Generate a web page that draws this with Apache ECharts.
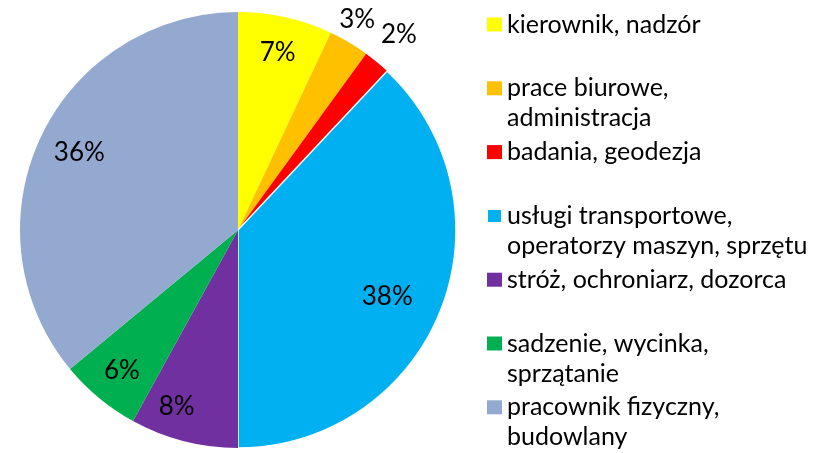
<!DOCTYPE html>
<html>
<head>
<meta charset="utf-8">
<script src="https://cdn.jsdelivr.net/npm/echarts@6/dist/echarts.min.js"></script>
<style>
  html, body { margin: 0; padding: 0; background: #fff; }
  #chart { width: 818px; height: 453px; }
</style>
</head>
<body>
<div id="chart"></div>
<script>
// dane
var categories = [
  'kierownik, nadzór',
  'prace biurowe,\nadministracja',
  'badania, geodezja',
  'usługi transportowe,\noperatorzy maszyn, sprzętu',
  'stróż, ochroniarz, dozorca',
  'sadzenie, wycinka,\nsprzątanie',
  'pracownik fizyczny,\nbudowlany'
];
var shares = [7, 3, 2, 38, 8, 6, 36];
var colors = ['#FFFF00', '#FFC000', '#FF0000', '#00B0F0', '#7030A0', '#00B050', '#94A9D0'];

// etykiety poza kołem (3% i 2%): [length, length2]
var outsideLabels = { 1: [26, -28], 2: [36, -24] };
// drobne przesunięcia etykiet wewnątrz (padding: góra, prawo, dół, lewo)
var labelNudge = { 3: [4, 40, 0, 0], 4: [6, 32, 0, 0], 6: [0, 0, 0, 12] };

var myChart = echarts.init(document.getElementById('chart'));

var pieData = categories.map(function (name, i) {
  var item = { name: name, value: shares[i], itemStyle: { color: colors[i] } };
  if (i === 3) {
    item.itemStyle.borderColor = '#fff';
    item.itemStyle.borderWidth = 1.5;
  }
  return item;
});

var labelData = categories.map(function (name, i) {
  var item = { name: name, value: shares[i] };
  if (outsideLabels[i]) {
    item.label = { position: 'outside' };
    item.labelLine = { show: false, length: outsideLabels[i][0], length2: outsideLabels[i][1] };
  }
  if (labelNudge[i]) {
    item.label = { padding: labelNudge[i] };
  }
  return item;
});

var option = {
  animation: false,
  legend: {
    orient: 'vertical',
    left: 486,
    top: -20.5,
    padding: 0,
    itemWidth: 15,
    itemHeight: 14,
    itemGap: -26.2,
    icon: 'rect',
    selectedMode: false,
    data: categories.map(function (name, i) {
      return { name: name, itemStyle: { color: colors[i] } };
    }),
    formatter: function (name) {
      var lines = name.split('\n');
      return '\u00a0\n' + lines[0] + '\n' + (lines[1] || '\u00a0');
    },
    textStyle: {
      fontFamily: 'Lato',
      fontSize: 25,
      lineHeight: 30,
      color: '#000'
    }
  },
  series: [
    {
      type: 'pie',
      center: [238, 230],
      radius: 218,
      startAngle: 90,
      clockwise: true,
      silent: true,
      label: { show: false },
      labelLine: { show: false },
      data: pieData
    },
    {
      type: 'pie',
      center: [238, 230],
      radius: [140, 218],
      startAngle: 90,
      clockwise: true,
      silent: true,
      avoidLabelOverlap: false,
      itemStyle: { color: 'rgba(0,0,0,0)' },
      label: {
        show: true,
        position: 'inside',
        formatter: '{c}%',
        fontFamily: 'Lato',
        fontSize: 26,
        color: '#000'
      },
      labelLine: { show: false },
      data: labelData
    }
  ]
};

if (option && typeof option === 'object') {
  myChart.setOption(option, true);
}
</script>
</body>
</html>
